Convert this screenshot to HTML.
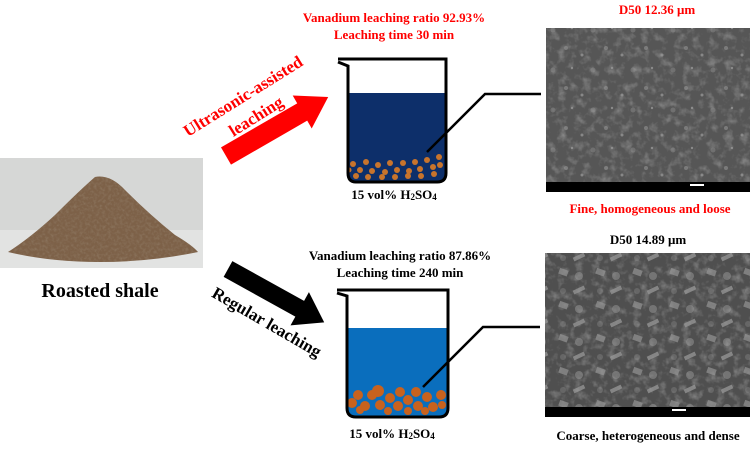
<!DOCTYPE html>
<html><head><meta charset="utf-8"><style>
html,body{margin:0;padding:0;background:#fff;}
svg{display:block}
text{font-family:"Liberation Serif",serif;font-weight:bold}
</style></head><body>
<svg width="750" height="452" viewBox="0 0 750 452" xmlns="http://www.w3.org/2000/svg">
<defs>
<filter id="noise1" x="0" y="0" width="100%" height="100%">
<feTurbulence type="fractalNoise" baseFrequency="0.12" numOctaves="3" seed="3"/>
<feColorMatrix type="matrix" values="0 0 0 0 0.33  0 0 0 0 0.33  0 0 0 0 0.33  1.6 0 0 0 -0.75"/>
<feComposite in2="SourceGraphic" operator="in"/>
</filter>
<filter id="pilef" x="0" y="0" width="100%" height="100%">
<feTurbulence type="fractalNoise" baseFrequency="0.35" numOctaves="2" seed="7"/>
<feColorMatrix type="matrix" values="0 0 0 0 0.3  0 0 0 0 0.22  0 0 0 0 0.15  1.2 0 0 0 -0.5"/>
<feComposite in2="SourceGraphic" operator="in"/>
</filter>
<pattern id="sem1" width="40" height="40" patternUnits="userSpaceOnUse">
<rect width="40" height="40" fill="#565656"/>
<circle cx="6" cy="8" r="2" fill="#7a7a7a"/><circle cx="22" cy="15" r="1.5" fill="#888"/>
<circle cx="33" cy="30" r="2.5" fill="#707070"/><circle cx="12" cy="28" r="1.2" fill="#8a8a8a"/>
</pattern>
<pattern id="sem2" width="37" height="33" patternUnits="userSpaceOnUse">
<rect width="37" height="33" fill="#4f4f4f"/>
<rect x="4" y="5" width="9" height="6" fill="#7f7f7f" transform="rotate(20 8 8)"/>
<circle cx="24" cy="12" r="4" fill="#747474"/><rect x="18" y="24" width="12" height="4" fill="#858585" transform="rotate(-25 24 26)"/>
<circle cx="8" cy="27" r="3" fill="#666"/>
</pattern>
</defs>

<!-- photo -->
<rect x="0" y="158" width="203" height="110" fill="#d6d7d6"/>
<rect x="0" y="230" width="203" height="38" fill="#e2e3e2"/>
<path d="M8,252 Q30,238 55,215 Q80,190 95,177 Q110,174 125,190 Q150,215 175,235 Q192,245 198,252 Q150,262 100,262 Q50,262 8,252Z" fill="#7d6148"/>
<path d="M8,252 Q30,238 55,215 Q80,190 95,177 Q110,174 125,190 Q150,215 175,235 Q192,245 198,252 Q150,262 100,262 Q50,262 8,252Z" fill="#000" filter="url(#pilef)"/>
<text x="100" y="297" font-size="20" text-anchor="middle">Roasted shale</text>

<!-- red arrow -->
<g transform="translate(226,156) rotate(-30)">
<polygon points="0,-10 88,-10 88,-19 118,0 88,19 88,10 0,10" fill="#ff0000"/>
</g>
<text font-size="17" fill="#ff0000" text-anchor="middle" transform="translate(246,101) rotate(-32)">Ultrasonic-assisted</text>
<text font-size="17" fill="#ff0000" text-anchor="middle" transform="translate(259,121) rotate(-32)">leaching</text>

<!-- black arrow -->
<g transform="translate(228,269) rotate(29)">
<polygon points="0,-9 82,-9 82,-19 110,0 82,19 82,9 0,9" fill="#000"/>
</g>
<text font-size="17" fill="#000" text-anchor="middle" transform="translate(264,327) rotate(30)">Regular leaching</text>

<!-- top beaker -->
<text x="394" y="22" font-size="13" fill="#ff0000" text-anchor="middle">Vanadium leaching ratio 92.93%</text>
<text x="394" y="39" font-size="13" fill="#ff0000" text-anchor="middle">Leaching time 30 min</text>
<path d="M348,93 L446,93 L446,173 Q446,182 437,182 L356,182 Q348,182 348,173Z" fill="#0d2f6a"/>
<g fill="#c8742c">
<circle cx="353" cy="164" r="3"/><circle cx="360" cy="170" r="3"/><circle cx="366" cy="162" r="3"/><circle cx="372" cy="171" r="3"/>
<circle cx="378" cy="165" r="3"/><circle cx="385" cy="172" r="3"/><circle cx="390" cy="163" r="3"/><circle cx="397" cy="170" r="3"/>
<circle cx="403" cy="163" r="3"/><circle cx="409" cy="171" r="3"/><circle cx="415" cy="162" r="3"/><circle cx="420" cy="169" r="3"/>
<circle cx="427" cy="160" r="3"/><circle cx="433" cy="167" r="3"/><circle cx="439" cy="157" r="3"/><circle cx="440" cy="165" r="3"/>
<circle cx="356" cy="176" r="3"/><circle cx="368" cy="177" r="3"/><circle cx="382" cy="177" r="3"/><circle cx="395" cy="177" r="3"/>
<circle cx="408" cy="176" r="3"/><circle cx="421" cy="176" r="3"/><circle cx="434" cy="174" r="3"/><circle cx="349" cy="170" r="2.5"/>
</g>
<path d="M338,59 L446,59 L446,173 Q446,182 437,182 L356,182 Q348,182 348,173 L348,66 L338,62" fill="none" stroke="#000" stroke-width="3"/>
<polyline points="427,152 485,94 541,94" fill="none" stroke="#000" stroke-width="2.5"/>
<text x="394" y="199" font-size="13" text-anchor="middle">15 vol% H<tspan font-size="9" dy="1">2</tspan><tspan dy="-1">SO</tspan><tspan font-size="9" dy="1">4</tspan></text>

<!-- top SEM -->
<text x="657" y="14" font-size="13" fill="#ff0000" text-anchor="middle">D50 12.36 μm</text>
<rect x="546" y="28" width="204" height="164" fill="url(#sem1)"/>
<rect x="546" y="28" width="204" height="164" fill="#fff" filter="url(#noise1)" opacity="0.9"/>
<rect x="546" y="182" width="204" height="10" fill="#000"/>
<rect x="690" y="184" width="14" height="2" fill="#fff"/>
<text x="650" y="213" font-size="13" fill="#ff0000" text-anchor="middle">Fine, homogeneous and loose</text>

<!-- bottom beaker -->
<text x="400" y="260" font-size="13" fill="#000" text-anchor="middle">Vanadium leaching ratio 87.86%</text>
<text x="400" y="277" font-size="13" fill="#000" text-anchor="middle">Leaching time 240 min</text>
<path d="M347,328 L448,328 L448,408 Q448,417 439,417 L356,417 Q347,417 347,408Z" fill="#0a6ebd"/>
<g fill="#c8621e">
<circle cx="352" cy="403" r="5"/><circle cx="358" cy="395" r="5"/><circle cx="365" cy="406" r="5"/><circle cx="372" cy="395" r="5"/>
<circle cx="378" cy="391" r="6"/><circle cx="380" cy="405" r="5"/><circle cx="390" cy="398" r="5"/><circle cx="400" cy="392" r="5"/>
<circle cx="398" cy="406" r="5"/><circle cx="408" cy="400" r="5"/><circle cx="416" cy="392" r="5"/><circle cx="418" cy="406" r="5"/>
<circle cx="427" cy="397" r="5"/><circle cx="433" cy="407" r="5"/><circle cx="441" cy="395" r="5"/><circle cx="442" cy="405" r="4"/>
<circle cx="360" cy="410" r="4"/><circle cx="388" cy="411" r="4"/><circle cx="408" cy="411" r="4"/><circle cx="425" cy="411" r="4"/>
</g>
<path d="M337,290 L448,290 L448,408 Q448,417 439,417 L356,417 Q347,417 347,408 L347,296 L337,293" fill="none" stroke="#000" stroke-width="3"/>
<polyline points="423,387 483,327 540,327" fill="none" stroke="#000" stroke-width="2.5"/>
<text x="392" y="438" font-size="13" text-anchor="middle">15 vol% H<tspan font-size="9" dy="1">2</tspan><tspan dy="-1">SO</tspan><tspan font-size="9" dy="1">4</tspan></text>

<!-- bottom SEM -->
<text x="648" y="244" font-size="13" fill="#000" text-anchor="middle">D50 14.89 μm</text>
<rect x="545" y="253" width="205" height="164" fill="url(#sem2)"/>
<rect x="545" y="253" width="205" height="164" fill="#fff" filter="url(#noise1)" opacity="0.9"/>
<rect x="545" y="407" width="205" height="10" fill="#000"/>
<rect x="672" y="409" width="14" height="2" fill="#fff"/>
<text x="648" y="440" font-size="13" fill="#000" text-anchor="middle">Coarse, heterogeneous and dense</text>
</svg>
</body></html>
